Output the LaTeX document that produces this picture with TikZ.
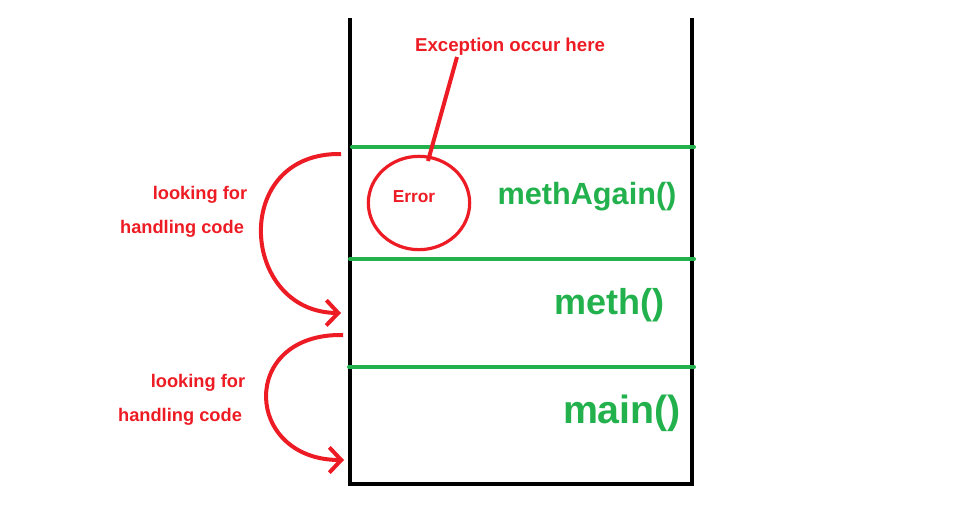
\documentclass[tikz,border=0pt]{standalone}
\usepackage{fontspec}
\setmainfont{Liberation Sans}
\usetikzlibrary{arrows.meta,shapes.geometric}
\definecolor{pred}{HTML}{ED1C24}
\definecolor{pgreen}{HTML}{22B14C}
\begin{document}
\begin{tikzpicture}[x=0.75pt,y=-0.75pt,
  wall/.style={line width=3pt,black},
  divider/.style={line width=3pt,pgreen,line cap=round},
  redlbl/.style={text=pred,font=\bfseries\fontsize{13.7}{16}\selectfont,inner sep=0pt},
  methlbl/.style={text=pgreen,inner sep=0pt},
  hop/.style={line width=3pt,pred,-{Straight Barb[length=9pt,width=19pt,line width=3pt]}}]
\useasboundingbox (0,0) rectangle (960,521);
% stack walls
\coordinate (tl) at (350,18);
\coordinate (bl) at (350,484);
\coordinate (br) at (692,484);
\coordinate (tr) at (692,18);
\draw[wall] (tl) -- (bl) -- (br) -- (tr);
% dividers
\coordinate (d1a) at (352,147); \coordinate (d1b) at (694,147);
\coordinate (d2a) at (350,259); \coordinate (d2b) at (694,259);
\coordinate (d3a) at (349,367); \coordinate (d3b) at (694,367);
\draw[divider] (d1a) -- (d1b);
\draw[divider] (d2a) -- (d2b);
\draw[divider] (d3a) -- (d3b);
% frame labels
\node[methlbl,font=\bfseries\fontsize{23}{26}\selectfont] (ma) at (587,197) {methAgain()};
\node[methlbl,font=\bfseries\fontsize{27}{30}\selectfont] (m) at (609,305) {meth()};
\node[methlbl,font=\bfseries\fontsize{29.5}{32}\selectfont] (mn) at (622,413) {main()};
% error circle
\node[draw=pred,line width=2.4pt,ellipse,minimum width=76pt,minimum height=70pt,inner sep=0pt] (err) at (419,203) {};
\node[text=pred,font=\bfseries\fontsize{13}{15}\selectfont,inner sep=0pt] (errt) at (414,197) {Error};
\node[text=pred,font=\bfseries\fontsize{14}{16}\selectfont,inner sep=0pt] (exc) at (510,47) {Exception occur here};
\coordinate (exca) at (457,57);
\coordinate (excb) at (428,161);
\draw[pred,line width=3pt] (exca) -- (excb);
% looking for labels
\node[redlbl] (l1a) at (200,195) {looking for};
\node[redlbl] (l1b) at (182,229) {handling code};
\node[redlbl] (l2a) at (198,383) {looking for};
\node[redlbl] (l2b) at (180,417) {handling code};
% hop arrows
\coordinate (h1s) at (341,154);
\coordinate (h1e) at (341,313);
\coordinate (h2s) at (343,335);
\coordinate (h2e) at (344,460);
\draw[hop] (h1s) .. controls (230,152) and (240,312) .. (h1e);
\draw[hop] (h2s) .. controls (238,333) and (244,460) .. (h2e);
\end{tikzpicture}
\end{document}
